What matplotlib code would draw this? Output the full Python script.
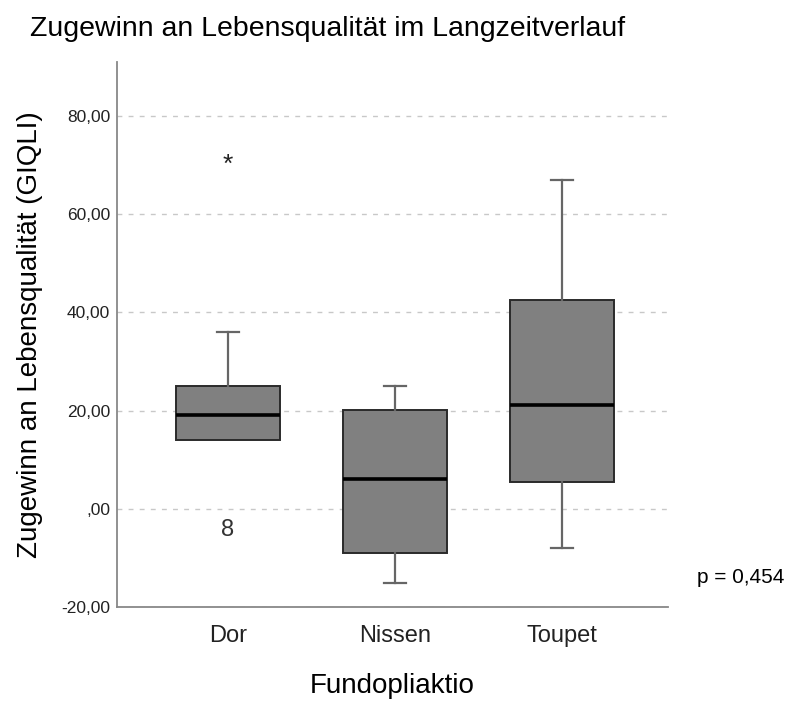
import matplotlib
matplotlib.use("Agg")
import matplotlib.pyplot as plt

plt.rcParams['font.family'] = ['Liberation Sans', 'DejaVu Sans']

categories = ["Dor", "Nissen", "Toupet"]
q1 = [14.0, -9.0, 5.5]
median = [19.1, 6.1, 21.2]
q3 = [25.0, 20.1, 42.5]
whisker_low = [14.0, -15.1, -7.9]
whisker_high = [36.0, 25.0, 67.0]
extreme_outliers = [(0, 70.0)]      # (category index, value) drawn as *
mild_outliers = [(0, -4.3, "8")]    # (category index, value, case label)
yticks = [-20, 0, 20, 40, 60, 80]
ytick_labels = ["-20,00", ",00", "20,00", "40,00", "60,00", "80,00"]
p_text = "p = 0,454"

fig = plt.figure(figsize=(7.89, 7.02), dpi=100)
ax = fig.add_axes([0.1483, 0.1353, 0.6983, 0.7764])

stats = []
for i, c in enumerate(categories):
    stats.append(dict(label=c, q1=q1[i], med=median[i], q3=q3[i],
                      whislo=whisker_low[i], whishi=whisker_high[i], fliers=[]))

positions = [1, 2, 3]
art = ax.bxp(stats, positions=positions, widths=0.623, patch_artist=True, showfliers=False,
             boxprops=dict(facecolor="#808080", edgecolor="#2a2a2a", linewidth=1.4),
             medianprops=dict(color="#000000", linewidth=2.6),
             whiskerprops=dict(color="#666666", linewidth=1.6),
             capprops=dict(color="#666666", linewidth=1.6),
             capwidths=0.13, zorder=3)
# hide caps that coincide with box edges
for i in range(len(categories)):
    if whisker_low[i] == q1[i]:
        art["caps"][2 * i].set_visible(False)
    if whisker_high[i] == q3[i]:
        art["caps"][2 * i + 1].set_visible(False)

for ci, v in extreme_outliers:
    ax.text(positions[ci], v, "*", ha="center", va="center", fontsize=19,
            color="#222222", zorder=4)
for ci, v, lab in mild_outliers:
    ax.text(positions[ci], v, lab, ha="center", va="center", fontsize=17,
            color="#333333", zorder=4)

ax.set_ylim(-20, 91)
ax.set_xlim(0.335, 3.635)
ax.set_yticks(yticks)
ax.set_yticklabels(ytick_labels, fontsize=12.5, color="#222222")
ax.set_xticks(positions)
ax.set_xticklabels(categories, fontsize=17, color="#222222")
ax.tick_params(axis="y", length=0, pad=5)
ax.tick_params(axis="x", length=0, pad=13)

for y in yticks:
    ax.axhline(y, color="#c8c8c8", linestyle=(0, (3.5, 4.5)), linewidth=1.0, zorder=1)

for s in ["top", "right"]:
    ax.spines[s].set_visible(False)
for s in ["left", "bottom"]:
    ax.spines[s].set_color("#888888")
    ax.spines[s].set_linewidth(1.3)

ax.set_ylabel("Zugewinn an Lebensqualität (GIQLI)", fontsize=20, labelpad=13)
ax.set_xlabel("Fundopliaktio", fontsize=20, labelpad=19)
fig.text(0.038, 0.958, "Zugewinn an Lebensqualität im Langzeitverlauf",
         fontsize=20.5, ha="left", va="center")
fig.text(0.883, 0.178, p_text, fontsize=15, ha="left", va="center")

fig.savefig("out.png", dpi=100)
